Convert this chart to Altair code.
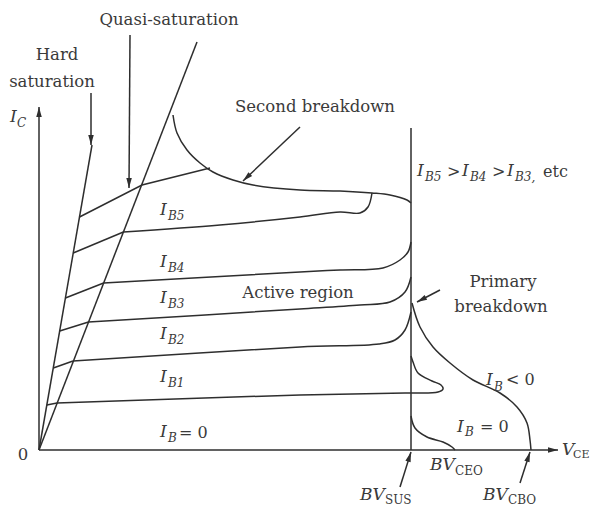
import math
import altair as alt
import pandas as pd

# ---------------- data (V_CE, I_C in arbitrary units) ----------
# straight reference lines
axis_y_v = [0, 0];        axis_y_i = [0, 343]
axis_x_v = [0, 519];      axis_x_i = [0, 0]
hard_v = [0, 53];         hard_i = [0, 305]
quasi_v = [0, 158];       quasi_i = [0, 408]
bvsus_v = [372, 372];     bvsus_i = [0, 322]

# base-current characteristic curves: start on hard-saturation line, kink on quasi line
ib1_start = (7.8, 45)
ib1_v = [18, 261, 366, 399, 404, 402, 393, 379, 374, 372]
ib1_i = [47, 55, 57, 58, 61, 65, 69, 77, 88, 94]
ib2_start = (14.3, 82)
ib2_v = [34, 261, 340, 356, 366, 372]
ib2_i = [89, 103, 106, 110, 120, 138]
ib3_start = (20.7, 119)
ib3_v = [49.5, 261, 321, 351, 366, 372]
ib3_i = [128, 141, 145, 148, 158, 173]
ib4_start = (26.4, 152)
ib4_v = [64.6, 261, 301, 344, 361, 369, 372]
ib4_i = [167, 178, 180, 182, 190, 198, 208]
ib5_start = (34.2, 197)
ib5_v = [84.4, 181, 261, 301, 321, 329, 333]
ib5_i = [218, 225, 233, 238, 237, 243, 257]
ib6_v = [40.5, 103, 171]
ib6_i = [233, 265, 282]

# second breakdown locus
sb_v = [134, 138, 148, 161, 174, 194, 214, 261, 301, 333, 351, 368, 372]
sb_i = [335, 317, 300, 287, 278, 270, 265, 260, 259, 257, 255, 250, 247]
# breakdown curves beyond BV_SUS
ib0r_v = [372, 376, 388, 404, 413, 416]
ib0r_i = [34, 22, 13, 8, 3, 0]
ibneg_v = [373, 381, 394, 411, 434, 461, 478, 488, 491, 492]
ibneg_i = [147, 123, 103, 87, 70, 57, 43, 27, 10, 0]

# arrows: (from_v, from_i, tip_v, tip_i)
arrows = [
    (0, 0, 0, 343),        # I_C axis
    (0, 0, 519, 0),        # V_CE axis
    (52, 357, 52, 305),    # hard saturation
    (91, 415, 90, 262),    # quasi-saturation
    (261, 323, 204, 269),  # second breakdown
    (401, 160, 378, 148),  # primary breakdown
    (361, -37, 372, -2),   # BV_SUS
    (481, -33, 491, -2),   # BV_CBO
]

# text pieces: (kind, v, i, text)
texts = [
    ("word", 130, 430, "Quasi-saturation"),
    ("word", 18, 395, "Hard"),
    ("word", 13, 368, "saturation"),
    ("word", 276, 343, "Second breakdown"),
    ("word", 259, 157, "Active region"),
    ("word", 464, 168, "Primary"),
    ("word", 462, 143, "breakdown"),
    ("word", -16, -5, "0"),
    ("ital", -29, 333, "I"), ("isub", -22, 327, "C"),
    ("ital", 121, 240, "I"), ("isub", 129, 234, "B5"),
    ("ital", 121, 188, "I"), ("isub", 129, 182, "B4"),
    ("ital", 121, 152, "I"), ("isub", 129, 146, "B3"),
    ("ital", 121, 116, "I"), ("isub", 129, 110, "B2"),
    ("ital", 121, 73, "I"), ("isub", 129, 67, "B1"),
    ("ital", 121, 18, "I"), ("isub", 129, 12, "B"), ("rom", 140, 17, "= 0"),
    ("ital", 378, 279, "I"), ("isub", 386, 273, "B5"), ("rom", 408, 278, ">"),
    ("ital", 423, 279, "I"), ("isub", 431, 273, "B4"), ("rom", 453, 278, ">"),
    ("ital", 468, 279, "I"), ("isub", 476, 273, "B3,"), ("rom", 504, 278, "etc"),
    ("ital", 447, 70, "I"), ("isub", 455, 63, "B"), ("rom", 467, 70, "< 0"),
    ("ital", 418, 23, "I"), ("isub", 426, 18, "B"), ("rom", 441, 23, "= 0"),
    ("ital", 523, 0, "V"), ("csub", 534, -5, "CE"),
    ("ital", 391, -15, "BV"), ("rsub", 416, -21, "CEO"),
    ("ital", 321, -45, "BV"), ("rsub", 346, -50, "SUS"),
    ("ital", 444, -45, "BV"), ("rsub", 469, -50, "CBO"),
]

# ---------------- build tables ----------------
INK = "#2e2e2e"
TXT = "#3a3a3a"
FONT = "DejaVu Serif"
X_DOM = [-31, 551]
Y_DOM = [-59, 442]
W, H = 582, 501


def rows(name, vs, is_):
    return [{"id": name, "k": k, "v": v, "i": i} for k, (v, i) in enumerate(zip(vs, is_))]


straight = []
straight += rows("hard", hard_v, hard_i)
straight += rows("quasi", quasi_v, quasi_i)
straight += rows("bvsus", bvsus_v, bvsus_i)
straight += rows("ib6", ib6_v, ib6_i)
for n, (st, vs, is_) in {
    "ib1": (ib1_start, ib1_v, ib1_i),
    "ib2": (ib2_start, ib2_v, ib2_i),
    "ib3": (ib3_start, ib3_v, ib3_i),
    "ib4": (ib4_start, ib4_v, ib4_i),
    "ib5": (ib5_start, ib5_v, ib5_i),
}.items():
    straight += rows(n + "s", [st[0], vs[0]], [st[1], is_[0]])

curved = []
curved += rows("ib1", ib1_v, ib1_i)
curved += rows("ib2", ib2_v, ib2_i)
curved += rows("ib3", ib3_v, ib3_i)
curved += rows("ib4", ib4_v, ib4_i)
curved += rows("ib5", ib5_v, ib5_i)
curved += rows("sb", sb_v, sb_i)
curved += rows("ib0r", ib0r_v, ib0r_i)
curved += rows("ibneg", ibneg_v, ibneg_i)

heads = []
for n, (v0, i0, v1, i1) in enumerate(arrows):
    straight += rows(f"arr{n}", [v0, v1], [i0, i1])
    dv, di = v1 - v0, i1 - i0
    L = math.hypot(dv, di)
    ang = math.degrees(math.atan2(dv, di)) % 360
    heads.append({"v": v1 - 5 * dv / L, "i": i1 - 5 * di / L, "ang": ang})

tdf = pd.DataFrame(texts, columns=["kind", "v", "i", "text"])

sx = alt.Scale(domain=X_DOM, nice=False, zero=False)
sy = alt.Scale(domain=Y_DOM, nice=False, zero=False)
X = alt.X("v:Q", scale=sx, axis=None)
Y = alt.Y("i:Q", scale=sy, axis=None)

lin = alt.Chart(pd.DataFrame(straight)).mark_line(
    color=INK, strokeWidth=1.5, interpolate="linear"
).encode(x=X, y=Y, detail="id:N", order="k:Q")

cur = alt.Chart(pd.DataFrame(curved)).mark_line(
    color=INK, strokeWidth=1.5, interpolate="catmull-rom"
).encode(x=X, y=Y, detail="id:N", order="k:Q")

ARROW = "M0,-1L0.55,1L-0.55,1Z"
hd = alt.Chart(pd.DataFrame(heads)).mark_point(
    shape=ARROW, filled=True, size=100, color=INK, opacity=1, strokeWidth=0
).encode(x=X, y=Y, angle=alt.Angle("ang:Q", scale=None))


def tlayer(kind, size, style, align):
    return alt.Chart(tdf).transform_filter(alt.datum.kind == kind).mark_text(
        font=FONT, fontSize=size, fontStyle=style, align=align, baseline="middle", color=TXT
    ).encode(x=X, y=Y, text="text:N")


chart = alt.layer(
    lin, cur, hd,
    tlayer("word", 16.5, "normal", "center"),
    tlayer("ital", 17, "italic", "left"),
    tlayer("isub", 12, "italic", "left"),
    tlayer("rsub", 12, "normal", "left"),
    tlayer("csub", 11, "normal", "left"),
    tlayer("rom", 16, "normal", "left"),
).properties(
    width=W, height=H, padding=0, autosize=alt.AutoSizeParams(type="none"), background="white"
).configure_view(stroke=None)

chart.save("out.html", embed_options={"renderer": "svg", "actions": False})
